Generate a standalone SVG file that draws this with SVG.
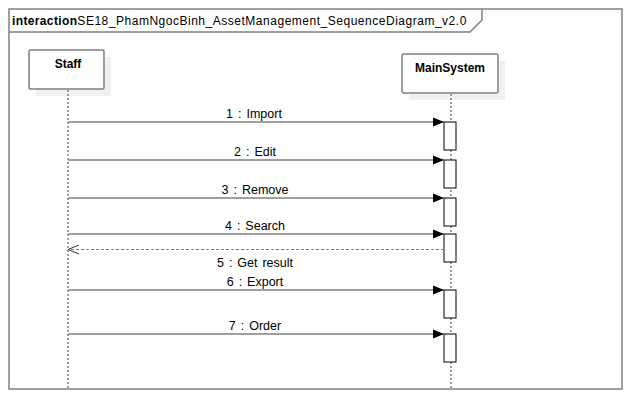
<svg xmlns="http://www.w3.org/2000/svg" width="632" height="400" viewBox="0 0 632 400">
<style>
text{font-family:"Liberation Sans",Arial,sans-serif;font-size:12px;fill:#000}
.b{font-weight:bold}
.frame{fill:none;stroke:#808080;stroke-width:1.5}
.box{fill:#fff;stroke:#808080;stroke-width:1.5}
.shadow{fill:#f0f0f0;stroke:none}
.life{stroke:#808080;stroke-width:1.5;stroke-dasharray:2,2;fill:none}
.msg{stroke:#808080;stroke-width:1.5;fill:none;marker-end:url(#ah)}
.ret{stroke:#808080;stroke-width:1;stroke-dasharray:3,2;fill:none;marker-end:url(#oh)}
.act{fill:#fff;stroke:#000;stroke-width:1}
.lbl{text-anchor:middle;font-size:12.5px;word-spacing:1.5px}
</style>
<defs>
<marker id="ah" markerUnits="userSpaceOnUse" markerWidth="12" markerHeight="10" refX="11" refY="5" orient="auto">
<path d="M0,0.5 L11,5 L0,9.5 Z" fill="#000"/>
</marker>
<marker id="oh" markerUnits="userSpaceOnUse" markerWidth="12" markerHeight="10" refX="11" refY="5" orient="auto">
<path d="M0,0.5 L11,5 L0,9.5" fill="none" stroke="#333" stroke-width="1"/>
</marker>
</defs>
<rect width="632" height="400" fill="#fff"/>
<g id="frame">
<rect class="frame" x="9" y="9" width="613" height="380"/>
<path class="frame" d="M9,32 H470 L482,20 V9"/>
<text x="12" y="25" font-size="13.5"><tspan class="b" textLength="65">interaction</tspan><tspan textLength="389">SE18_PhamNgocBinh_AssetManagement_SequenceDiagram_v2.0</tspan></text>
</g>
<g id="staff">
<rect class="shadow" x="36" y="57" width="75" height="39"/>
<rect class="box" x="29" y="50" width="75" height="39" rx="1.5"/>
<text class="b" x="68" y="68" text-anchor="middle">Staff</text>
<line class="life" x1="68" y1="90" x2="68" y2="389"/>
</g>
<g id="mainsystem">
<rect class="shadow" x="409" y="61" width="96" height="39"/>
<rect class="box" x="402" y="54" width="96" height="39" rx="1.5"/>
<text class="b" x="450" y="72" text-anchor="middle">MainSystem</text>
<line class="life" x1="451" y1="94" x2="451" y2="389"/>
<rect class="act" x="444" y="122" width="12" height="28"/>
<rect class="act" x="444" y="160" width="12" height="28"/>
<rect class="act" x="444" y="198" width="12" height="28"/>
<rect class="act" x="444" y="234" width="12" height="28"/>
<rect class="act" x="444" y="290" width="12" height="28"/>
<rect class="act" x="444" y="334" width="12" height="28"/>
</g>
<g id="connectors">
<line class="msg" x1="68" y1="122" x2="444" y2="122"/>
<text class="lbl" x="254" y="118">1 : Import</text>
<line class="msg" x1="68" y1="160" x2="444" y2="160"/>
<text class="lbl" x="255" y="156">2 : Edit</text>
<line class="msg" x1="68" y1="198" x2="444" y2="198"/>
<text class="lbl" x="255" y="194">3 : Remove</text>
<line class="msg" x1="68" y1="234" x2="444" y2="234"/>
<text class="lbl" x="255" y="230">4 : Search</text>
<line class="ret" x1="444" y1="249.5" x2="68" y2="249.5"/>
<text class="lbl" x="255" y="267">5 : Get result</text>
<line class="msg" x1="68" y1="290" x2="444" y2="290"/>
<text class="lbl" x="255" y="286">6 : Export</text>
<line class="msg" x1="68" y1="334" x2="444" y2="334"/>
<text class="lbl" x="255" y="330">7 : Order</text>
</g>
</svg>
